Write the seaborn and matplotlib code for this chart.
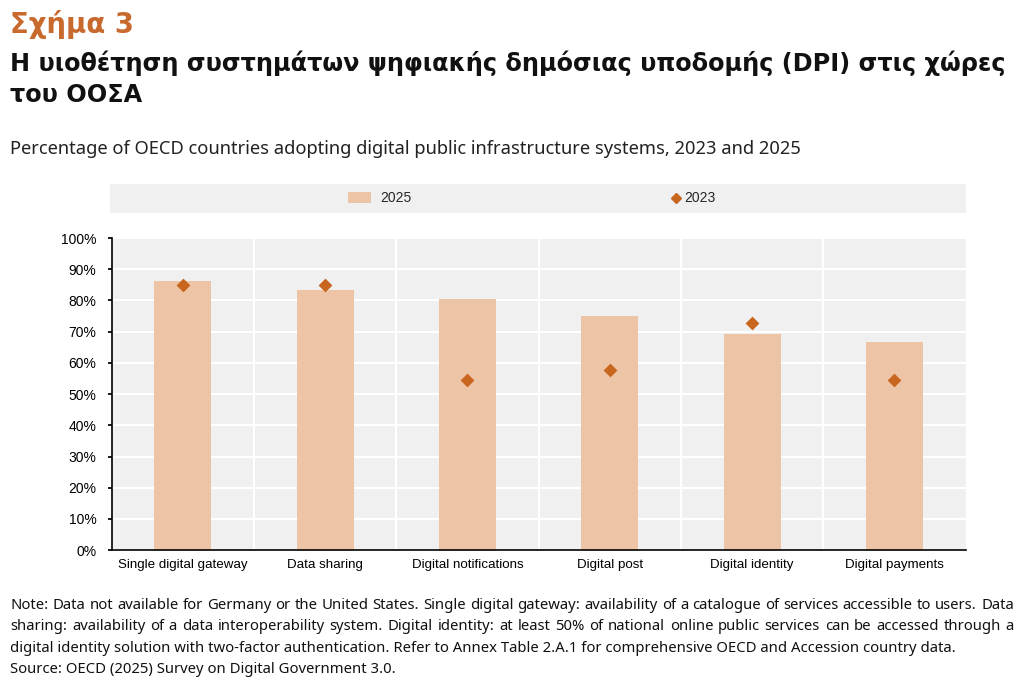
import matplotlib
matplotlib.use("Agg")
import matplotlib.pyplot as plt
import pandas as pd
import seaborn as sns
from matplotlib.lines import Line2D
from matplotlib.patches import Patch
from matplotlib.ticker import FixedLocator, PercentFormatter

categories = ["Single digital gateway", "Data sharing", "Digital notifications",
              "Digital post", "Digital identity", "Digital payments"]
values_2025 = [86.1, 83.3, 80.6, 75.0, 69.4, 66.7]
values_2023 = [84.8, 84.8, 54.5, 57.6, 72.7, 54.5]

title_num = "Σχήμα 3"
title_el = ["Η υιοθέτηση συστημάτων ψηφιακής δημόσιας υποδομής (DPI) στις χώρες",
            "του ΟΟΣΑ"]
subtitle = "Percentage of OECD countries adopting digital public infrastructure systems, 2023 and 2025"
notes = [
    "Note: Data not available for Germany or the United States. Single digital gateway: availability of a catalogue of services accessible to users. Data",
    "sharing: availability of a data interoperability system. Digital identity: at least 50% of national online public services can be accessed through a",
    "digital identity solution with two-factor authentication. Refer to Annex Table 2.A.1 for comprehensive OECD and Accession country data.",
    "Source: OECD (2025) Survey on Digital Government 3.0.",
]

BAR = "#EEC4A6"
DOT = "#C8651E"
ORANGE = "#C8692E"
PANEL = "#F0F0F0"

sns.set_theme(style="white")
plt.rcParams["font.family"] = ["DejaVu Sans"]
chart_font = ["Liberation Sans", "DejaVu Sans"]
note_font = ["Noto Sans", "DejaVu Sans"]

df = pd.DataFrame({"category": categories, "y2025": values_2025, "y2023": values_2023})

fig = plt.figure(figsize=(10.24, 6.86), dpi=100)
ax = fig.add_axes([0.109, 0.198, 0.834, 0.455])
ax.set_facecolor(PANEL)

sns.barplot(data=df, x="category", y="y2025", color=BAR, width=0.4,
            saturation=1, linewidth=0, ax=ax, zorder=2)
sns.stripplot(data=df, x="category", y="y2023", color=DOT, marker="D",
              size=7, jitter=False, ax=ax, zorder=3, linewidth=0)

ax.set_xlim(-0.5, len(categories) - 0.5)
ax.set_ylim(0, 100)
ax.set_yticks(range(0, 101, 10))
ax.yaxis.set_major_formatter(PercentFormatter(decimals=0))
ax.xaxis.set_minor_locator(FixedLocator([i + 0.5 for i in range(len(categories) - 1)]))
ax.grid(axis="y", which="major", color="white", lw=1.5, zorder=1)
ax.grid(axis="x", which="minor", color="white", lw=1.5, zorder=1)
ax.set_axisbelow(True)
ax.set_xlabel("")
ax.set_ylabel("")
for s in ["top", "right"]:
    ax.spines[s].set_visible(False)
for s in ["left", "bottom"]:
    ax.spines[s].set_color("black")
    ax.spines[s].set_linewidth(1.2)
ax.tick_params(axis="x", which="major", length=0, pad=6)
ax.tick_params(axis="x", which="minor", direction="in", length=4, color="black")
ax.tick_params(axis="y", length=3, color="black", left=True, pad=8)
for lab in ax.get_xticklabels():
    lab.set_fontfamily(chart_font)
    lab.set_fontsize(9.6)
    lab.set_color("black")
for lab in ax.get_yticklabels():
    lab.set_fontfamily(chart_font)
    lab.set_fontsize(10)
    lab.set_color("black")

# legend band
lax = fig.add_axes([0.107, 0.6895, 0.836, 0.0423])
lax.set_facecolor(PANEL)
lax.set_xticks([])
lax.set_yticks([])
for s in lax.spines.values():
    s.set_visible(False)
leg_prop = {"family": chart_font, "size": 10}
leg1 = lax.legend(handles=[Patch(facecolor=BAR, edgecolor="none", label="2025")],
                  loc="center", bbox_to_anchor=(0.316, 0.5), frameon=False,
                  handlelength=1.6, handleheight=0.9, handletextpad=0.7, prop=leg_prop)
lax.add_artist(leg1)
lax.legend(handles=[Line2D([], [], marker="D", color=DOT, lw=0, markersize=5, label="2023")],
           loc="center", bbox_to_anchor=(0.682, 0.5), frameon=False,
           handlelength=0.6, handletextpad=0.3, prop=leg_prop)

fig.text(0.01, 0.965, title_num, color=ORANGE, fontsize=19.8, fontweight="bold", va="center")
fig.text(0.01, 0.908, title_el[0], color="#111111", fontsize=17.3, fontweight="bold", va="center")
fig.text(0.01, 0.861, title_el[1], color="#111111", fontsize=17.3, fontweight="bold", va="center")
fig.text(0.01, 0.783, subtitle, color="#222222", fontsize=13.2, va="center", family=note_font)

# notes: first two lines justified to the right margin
renderer = fig.canvas.get_renderer()
fig_w = fig.get_figwidth() * fig.dpi
x0, x1 = 0.01, 0.99
for i, line in enumerate(notes):
    y = 0.118 - i * 0.0315
    if i < 2:
        words = line.split(" ")
        widths = []
        for w in words:
            t = fig.text(0, 0, w, fontsize=10.7, family=note_font)
            widths.append(t.get_window_extent(renderer).width / fig_w)
            t.remove()
        gap = (x1 - x0 - sum(widths)) / (len(words) - 1)
        x = x0
        for w, wd in zip(words, widths):
            fig.text(x, y, w, color="#111111", fontsize=10.7, va="center", family=note_font)
            x += wd + gap
    else:
        fig.text(x0, y, line, color="#111111", fontsize=10.7, va="center", family=note_font)

fig.savefig("out.png", dpi=100)
